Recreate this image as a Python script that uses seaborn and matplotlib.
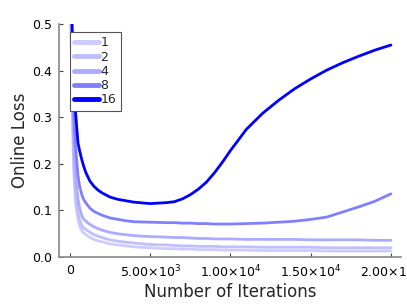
import numpy as np
import pandas as pd
import seaborn as sns
import matplotlib.pyplot as plt
from matplotlib.ticker import FixedLocator, FixedFormatter

sns.set_theme(style="white")
plt.rcParams['font.family'] = ['DejaVu Sans']
plt.rcParams['mathtext.default'] = 'regular'

iters = [0, 100, 150, 250, 350, 500, 600, 750, 850, 1000, 1250, 1500, 1750, 2000, 2500, 3000, 3500, 4000,
         5000, 6000, 6500, 7000, 7500, 8000, 8500, 9000, 9500, 10000, 11000,
         12000, 13000, 14000, 15000, 16000, 17000, 18000, 19000, 20000]

loss_1 = [0.66, 0.42, 0.30, 0.17, 0.115, 0.080, 0.066, 0.055, 0.051, 0.047, 0.041, 0.037, 0.034, 0.032, 0.027, 0.025, 0.023, 0.021,
          0.019, 0.017, 0.017, 0.016, 0.016, 0.015, 0.015, 0.015, 0.014, 0.014, 0.014,
          0.013, 0.013, 0.013, 0.013, 0.012, 0.012, 0.012, 0.012, 0.012]
loss_2 = [0.68, 0.44, 0.33, 0.20, 0.135, 0.095, 0.079, 0.066, 0.062, 0.058, 0.052, 0.047, 0.044, 0.041, 0.036, 0.033, 0.031, 0.029,
          0.026, 0.025, 0.024, 0.023, 0.023, 0.022, 0.022, 0.022, 0.021, 0.021, 0.021,
          0.020, 0.020, 0.020, 0.020, 0.019, 0.019, 0.019, 0.019, 0.019]
loss_4 = [0.70, 0.46, 0.36, 0.24, 0.17, 0.125, 0.105, 0.087, 0.081, 0.076, 0.069, 0.064, 0.060, 0.057, 0.052, 0.049, 0.047, 0.045,
          0.043, 0.042, 0.041, 0.041, 0.040, 0.039, 0.039, 0.038, 0.038, 0.038, 0.037,
          0.037, 0.037, 0.037, 0.036, 0.036, 0.036, 0.036, 0.035, 0.035]
loss_8 = [0.72, 0.50, 0.41, 0.30, 0.235, 0.175, 0.152, 0.132, 0.123, 0.115, 0.104, 0.097, 0.093, 0.089, 0.083, 0.080, 0.077, 0.075,
          0.074, 0.073, 0.073, 0.072, 0.072, 0.071, 0.071, 0.070, 0.070, 0.070, 0.071,
          0.072, 0.074, 0.076, 0.080, 0.085, 0.096, 0.107, 0.119, 0.135]
loss_16 = [0.75, 0.56, 0.48, 0.40, 0.31, 0.245, 0.228, 0.207, 0.195, 0.180, 0.162, 0.151, 0.143, 0.137, 0.128, 0.123, 0.120, 0.117,
           0.114, 0.116, 0.118, 0.124, 0.133, 0.145, 0.160, 0.180, 0.203, 0.228, 0.274,
           0.308, 0.336, 0.361, 0.382, 0.401, 0.417, 0.431, 0.444, 0.455]

labels = ['1', '2', '4', '8', '16']
alphas = [0.2, 0.25, 0.33, 0.5, 1.0]

rows = []
for lab, ys in zip(labels, [loss_1, loss_2, loss_4, loss_8, loss_16]):
    for x, y in zip(iters, ys):
        rows.append([x, y, lab])
df = pd.DataFrame(rows, columns=['iter', 'loss', 'batch'])

palette = {lab: (1 - a, 1 - a, 1.0) for lab, a in zip(labels, alphas)}

fig = plt.figure(figsize=(4.07, 3.05), dpi=100)
ax = fig.add_axes([0.145, 0.1587, 0.84, 0.7623])
sns.lineplot(data=df, x='iter', y='loss', hue='batch', hue_order=labels,
             palette=palette, linewidth=2, ax=ax)

ax.set_xlim(-680, 20620)
ax.set_ylim(0, 0.5)
xt = [0, 5000, 10000, 15000, 20000]
ax.xaxis.set_major_locator(FixedLocator(xt))
ax.xaxis.set_major_formatter(FixedFormatter(
    ['0', r'$5.00{\times}10^{3}$', r'$1.00{\times}10^{4}$',
     r'$1.50{\times}10^{4}$', r'$2.00{\times}10^{4}$']))
ax.set_yticks([0.0, 0.1, 0.2, 0.3, 0.4, 0.5])
ax.set_yticklabels(['0.0', '0.1', '0.2', '0.3', '0.4', '0.5'])
ax.tick_params(bottom=True, left=True, direction='in', length=3, width=0.8,
               color='#444444', labelsize=9, labelcolor='black', pad=5)

for s in ['top', 'right']:
    ax.spines[s].set_visible(False)
for s in ['left', 'bottom']:
    ax.spines[s].set_color('#888888')
    ax.spines[s].set_linewidth(1.2)

ax.set_xlabel('Number of Iterations', fontsize=12, labelpad=2)
ax.set_ylabel('Online Loss', fontsize=12, labelpad=2)

leg = ax.legend(loc='upper left', bbox_to_anchor=(0.032, 0.966), borderaxespad=0,
                fancybox=False, framealpha=1, edgecolor='#555555', fontsize=9,
                handlelength=2.0, handletextpad=0.1, labelspacing=0.1,
                borderpad=0.35, title=None)
leg.get_frame().set_linewidth(0.8)
for h in leg.get_lines():
    h.set_linewidth(3.5)

fig.savefig('out.png', dpi=100)
